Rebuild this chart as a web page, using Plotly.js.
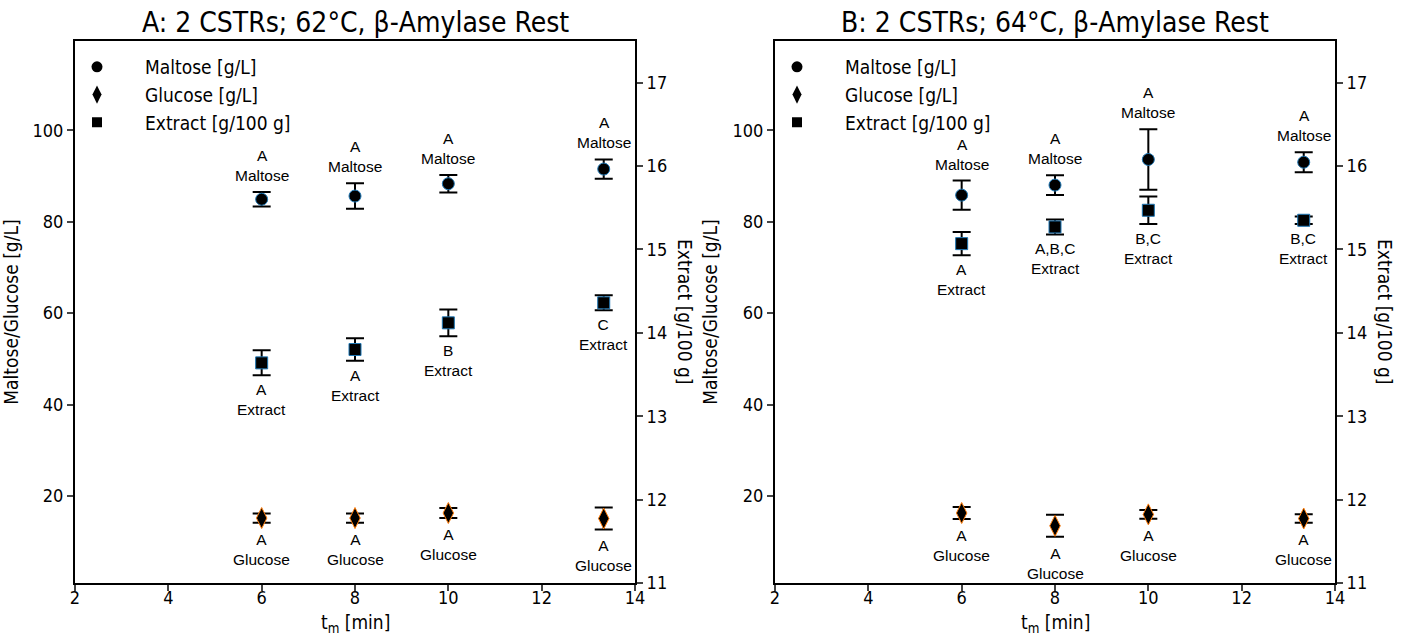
<!DOCTYPE html>
<html>
<head>
<meta charset="utf-8">
<script src="https://cdn.plot.ly/plotly-3.0.1.min.js"></script>
<style>html,body{margin:0;padding:0;background:#fff;}#chart{width:1408px;height:635px;}</style>
</head>
<body>
<div id="chart"></div>
<script>
// ---- data ----
const times = [6, 8, 10, 13.33];
const panelTitles = ["A: 2 CSTRs; 62°C, β-Amylase Rest", "B: 2 CSTRs; 64°C, β-Amylase Rest"];
const seriesNames = ["Maltose [g/L]", "Glucose [g/L]", "Extract [g/100 g]"];

// Panel A (62 °C)
const maltoseA = [84.9, 85.6, 88.3, 91.5];
const maltoseAErr = [1.6, 2.8, 1.9, 2.1];
const glucoseA = [15.2, 15.2, 16.3, 15.1];
const glucoseAErr = [1.0, 1.0, 1.1, 2.4];
const extractA = [13.64, 13.80, 14.12, 14.36];
const extractAErr = [0.15, 0.135, 0.16, 0.09];
const maltoseALetters = ["A", "A", "A", "A"];
const glucoseALetters = ["A", "A", "A", "A"];
const extractALetters = ["A", "A", "B", "C"];

// Panel B (64 °C)
const maltoseB = [85.8, 88.0, 93.6, 93.0];
const maltoseBErr = [3.2, 2.15, 6.6, 2.2];
const glucoseB = [16.3, 13.5, 16.0, 15.1];
const glucoseBErr = [1.3, 2.4, 0.95, 0.95];
const extractB = [15.07, 15.27, 15.47, 15.35];
const extractBErr = [0.14, 0.09, 0.165, 0.045];
const maltoseBLetters = ["A", "A", "A", "A"];
const glucoseBLetters = ["A", "A", "A", "A"];
const extractBLetters = ["A", "A,B,C", "B,C", "B,C"];

const xTicks = [2, 4, 6, 8, 10, 12, 14];
const leftTicks = [20, 40, 60, 80, 100];
const rightTicks = [11, 12, 13, 14, 15, 16, 17];

// ---- styling ----
const FONT = "DejaVu Sans Condensed, DejaVu Sans, sans-serif";
const LFONT = "Liberation Sans, Arial, sans-serif";
const BLUE = "#1f77b4", ORANGE = "#ff7f0e";

function errBar(arr) {
  return {type: "data", array: arr, visible: true, color: "#000", thickness: 2, width: 9};
}

const traces = [];
const annotations = [];

function addPanel(xa, ya, ya2, legendId, m, mE, g, gE, e, eE, mL, gL, eL) {
  traces.push({x: times, y: m, xaxis: xa, yaxis: ya, type: "scatter", mode: "markers",
    name: seriesNames[0], showlegend: false, error_y: errBar(mE),
    marker: {symbol: "circle", size: 12, color: "#000", line: {color: BLUE, width: 1}}});
  traces.push({x: times, y: g, xaxis: xa, yaxis: ya, type: "scatter", mode: "markers",
    name: seriesNames[1], showlegend: false, error_y: errBar(gE),
    marker: {symbol: "diamond-tall", size: 15, color: "#000", line: {color: ORANGE, width: 1}}});
  traces.push({x: times, y: e, xaxis: xa, yaxis: ya2, type: "scatter", mode: "markers",
    name: seriesNames[2], showlegend: false, error_y: errBar(eE),
    marker: {symbol: "square", size: 12, color: "#000", line: {color: BLUE, width: 1}}});
  // legend-only entries
  const syms = ["circle", "diamond-tall", "square"];
  const sizes = [11, 13, 10];
  syms.forEach((s, i) => traces.push({x: [null], y: [null], xaxis: xa, yaxis: ya, type: "scatter",
    mode: "markers", name: seriesNames[i], legend: legendId, showlegend: true,
    marker: {symbol: s, size: sizes[i], color: "#000"}}));

  times.forEach((t, i) => {
    annotations.push({x: t, y: m[i] + mE[i], xref: xa, yref: ya, text: mL[i] + "<br>Maltose",
      showarrow: false, yanchor: "bottom", yshift: 6, font: {family: LFONT, size: 15.5, color: "#000"}});
    annotations.push({x: t, y: g[i] - gE[i], xref: xa, yref: ya, text: gL[i] + "<br>Glucose",
      showarrow: false, yanchor: "top", yshift: -6, font: {family: LFONT, size: 15.5, color: "#000"}});
    annotations.push({x: t, y: e[i] - eE[i], xref: xa, yref: ya2, text: eL[i] + "<br>Extract",
      showarrow: false, yanchor: "top", yshift: -4, font: {family: LFONT, size: 15.5, color: "#000"}});
  });
}

addPanel("x", "y", "y2", "legend", maltoseA, maltoseAErr, glucoseA, glucoseAErr, extractA, extractAErr,
  maltoseALetters, glucoseALetters, extractALetters);
addPanel("x2", "y3", "y4", "legend2", maltoseB, maltoseBErr, glucoseB, glucoseBErr, extractB, extractBErr,
  maltoseBLetters, glucoseBLetters, extractBLetters);

const W = 1408, H = 635;
const dA = [75 / W, 635 / W], dB = [775 / W, 1335 / W];
const dY = [1 - 583 / H, 1 - 41 / H];

// panel titles
[dA, dB].forEach((d, i) => annotations.push({x: (d[0] + d[1]) / 2, y: 1 - 22 / H, xref: "paper", yref: "paper",
  text: panelTitles[i], showarrow: false, xanchor: "center", yanchor: "middle",
  font: {family: FONT, size: 28, color: "#000"}}));
// right axis titles (reading top-to-bottom)
[685, 1385].forEach(px => annotations.push({x: px / W, y: (dY[0] + dY[1]) / 2, xref: "paper", yref: "paper",
  text: seriesNames[2], showarrow: false, textangle: 90,
  xanchor: "center", yanchor: "middle", font: {family: FONT, size: 19, color: "#000"}}));
// x axis titles
[dA, dB].forEach(d => annotations.push({x: (d[0] + d[1]) / 2, y: 1 - 623 / H, xref: "paper", yref: "paper",
  text: "t<sub>m</sub> [min]", showarrow: false, xanchor: "center", yanchor: "middle",
  font: {family: FONT, size: 19, color: "#000"}}));

function xAxis(domain, anchor) {
  return {domain: domain, anchor: anchor, range: [2, 14], tickvals: xTicks, ticks: "outside", ticklen: 6,
    tickwidth: 2, showline: true, linewidth: 2, linecolor: "#000", mirror: true, showgrid: false,
    zeroline: false, tickfont: {family: FONT, size: 18, color: "#000"}, ticklabelstandoff: -9};
}
function yLeft(anchor) {
  return {domain: dY, anchor: anchor, range: [1, 119.5], tickvals: leftTicks, ticks: "outside", ticklen: 6,
    tickwidth: 2, showline: true, linewidth: 2, linecolor: "#000", showgrid: false, zeroline: false,
    tickfont: {family: FONT, size: 18, color: "#000"},
    title: {text: "Maltose/Glucose [g/L]", font: {family: FONT, size: 19, color: "#000"}, standoff: 10}};
}
function yRight(anchor, over) {
  return {domain: dY, anchor: anchor, overlaying: over, side: "right", range: [11, 17.5], tickvals: rightTicks,
    ticks: "outside", ticklen: 6, tickwidth: 2, showline: true, linewidth: 2, linecolor: "#000",
    showgrid: false, zeroline: false, tickfont: {family: FONT, size: 18, color: "#000"}};
}

const legendBase = {yanchor: "top", xanchor: "left", bgcolor: "rgba(0,0,0,0)",
  font: {family: FONT, size: 19, color: "#000"}, itemwidth: 86, tracegroupgap: 0};

const layout = {
  width: W, height: H, margin: {l: 0, r: 0, t: 0, b: 0},
  paper_bgcolor: "#fff", plot_bgcolor: "#fff",
  font: {family: FONT, color: "#000"},
  xaxis: xAxis(dA, "y"), yaxis: yLeft("x"), yaxis2: yRight("x", "y"),
  xaxis2: xAxis(dB, "y3"), yaxis3: yLeft("x2"), yaxis4: yRight("x2", "y3"),
  legend: Object.assign({x: 49 / W, y: 1 - 48 / H}, legendBase),
  legend2: Object.assign({x: 749 / W, y: 1 - 48 / H}, legendBase),
  annotations: annotations,
  showlegend: true
};

Plotly.newPlot("chart", traces, layout, {staticPlot: true, displayModeBar: false});
</script>
</body>
</html>
